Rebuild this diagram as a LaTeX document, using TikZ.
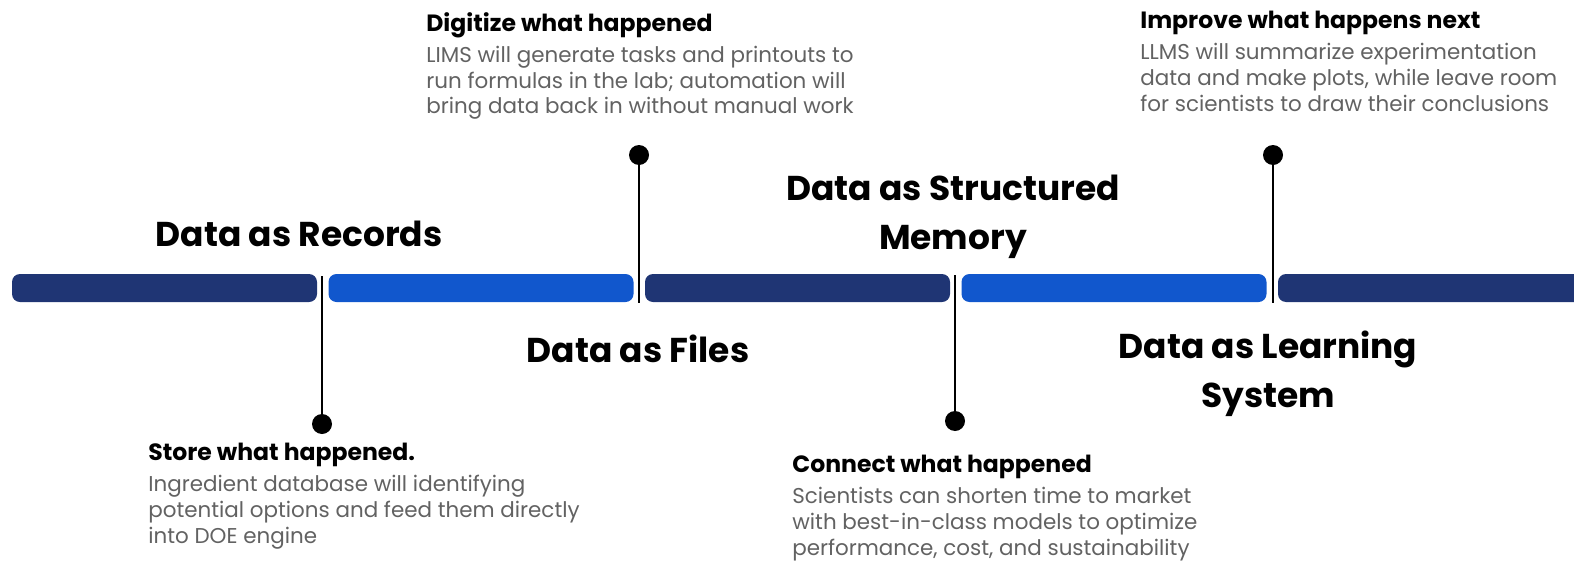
\documentclass[tikz,border=0pt]{standalone}
\usepackage{fontspec}
\setmainfont{Poppins}
\usetikzlibrary{positioning}
\definecolor{navy}{RGB}{31,53,116}
\definecolor{brightblue}{RGB}{17,87,205}
\definecolor{bodygray}{RGB}{98,98,98}
\newcommand{\leadfont}{\fontsize{13.4}{14.8}\selectfont\bfseries}

\begin{document}
\begin{tikzpicture}[
			x=0.02cm,y=-0.02cm,
			every node/.style={inner sep=0pt},
			stage/.style={font=\fontsize{19.6}{27.6}\selectfont\bfseries,align=center,anchor=north},
			event/.style={font=\fontsize{12.2}{14.7}\selectfont,align=left,anchor=north west},
			pin/.style={circle,fill=black,minimum size=0.4cm},
			stem/.style={line width=1.1pt}
			]

			\useasboundingbox (0,0) rectangle (1574,561);

			% timeline bar
			\foreach \i/\c in {0/navy,1/brightblue,2/navy,3/brightblue,4/navy}
				{
				\fill[\c,rounded corners=0.16cm] ({12+\i*316.5},274) rectangle ({317+\i*316.5},302);
				}

			% stages
			\node[stage] (records) at (299,221) {Data as Records};
			\node[stage] (files) at (638,335) {Data as Files};
			\node[stage] (memory) at (953,175) {Data as Structured\\Memory};
			\node[stage] (learning) at (1268,331) {Data as Learning\\System};

			% pins
			\node[pin] (pstore) at (322,424) {};
			\node[pin] (pdigitize) at (639,155) {};
			\node[pin] (pconnect) at (955,421) {};
			\node[pin] (pimprove) at (1273,155) {};

			\coordinate (bstore) at (322,276);
			\coordinate (bdigitize) at (639,303);
			\coordinate (bconnect) at (955,275);
			\coordinate (bimprove) at (1273,303);

			\draw[stem] (bstore) -- (pstore.center);
			\draw[stem] (pdigitize.center) -- (bdigitize);
			\draw[stem] (bconnect) -- (pconnect.center);
			\draw[stem] (pimprove.center) -- (bimprove);

			% events
			\node[event] (store) at (148,443) {{\leadfont Store what happened.}\\[3pt]
				\color{bodygray}Ingredient database will identifying\\
				\color{bodygray}potential options and feed them directly\\
				\color{bodygray}into DOE engine};
			\node[event] (digitize) at (426,12) {{\leadfont Digitize what happened}\\[3pt]
				\color{bodygray}LIMS will generate tasks and printouts to\\
				\color{bodygray}run formulas in the lab; automation will\\
				\color{bodygray}bring data back in without manual work};
			\node[event] (connect) at (792,455) {{\leadfont Connect what happened}\\[3pt]
				\color{bodygray}Scientists can shorten time to market\\
				\color{bodygray}with best-in-class models to optimize\\
				\color{bodygray}performance, cost, and sustainability};
			\node[event] (improve) at (1140,11) {{\leadfont Improve what happens next}\\[3pt]
				\color{bodygray}LLMS will summarize experimentation\\
				\color{bodygray}data and make plots, while leave room\\
				\color{bodygray}for scientists to draw their conclusions};

		\end{tikzpicture}
\end{document}
